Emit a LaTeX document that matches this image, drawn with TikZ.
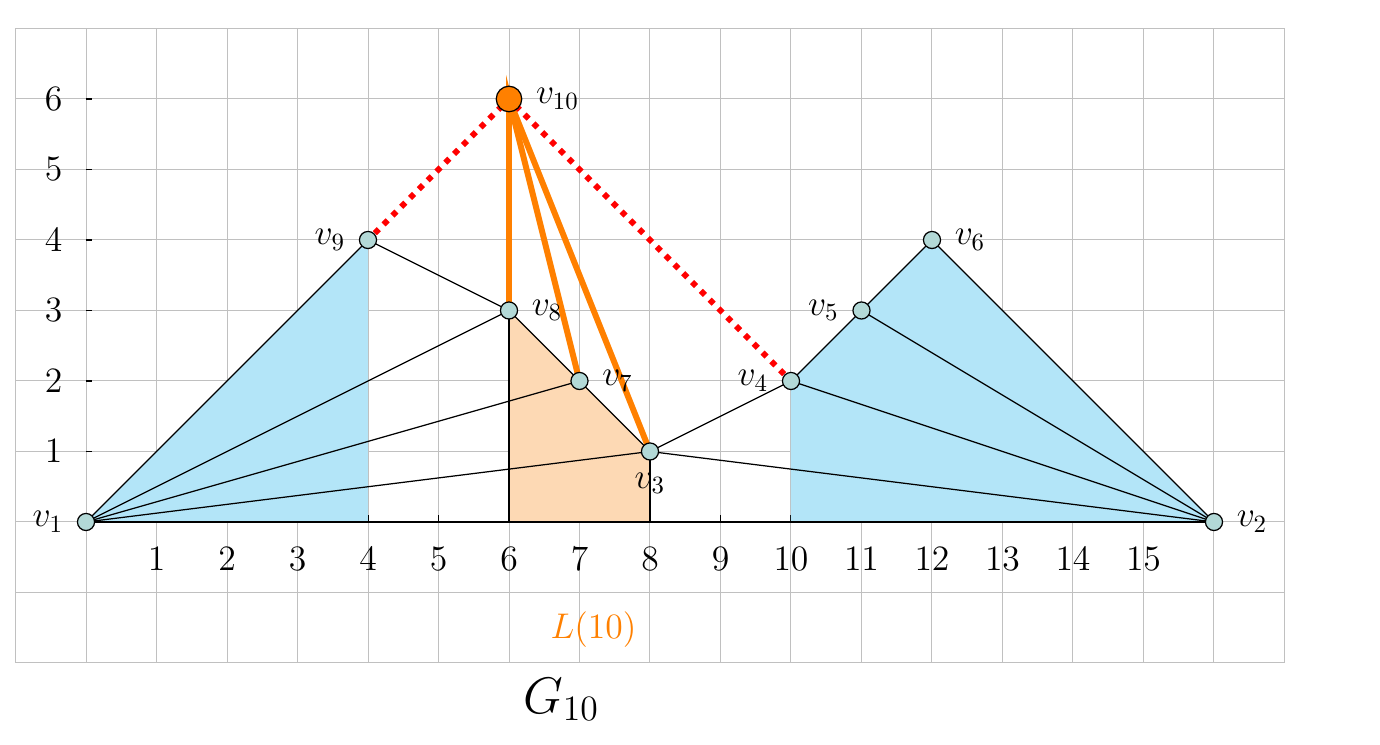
\documentclass[tikz,border=0pt]{standalone}
\usetikzlibrary{positioning}
\definecolor{fillblue}{RGB}{179,229,248}
\definecolor{fillorange}{RGB}{253,217,180}
\definecolor{vfill}{RGB}{179,217,215}
\definecolor{gridgray}{RGB}{192,192,192}
\definecolor{lorange}{RGB}{255,128,0}
\pgfdeclarelayer{bg}
\pgfsetlayers{bg,main}
\begin{document}
\begin{tikzpicture}[x=1cm,y=1cm,
  vtx/.style={circle, draw=black, line width=0.5pt, fill=vfill, inner sep=0pt, minimum size=6.9pt},
  topv/.style={circle, draw=black, line width=0.5pt, fill=lorange, inner sep=0pt, minimum size=10.3pt},
  vlab/.style={inner sep=0pt, font=\Large},
  ticklab/.style={inner sep=0pt, font=\Large},
  edge/.style={black, line width=0.5pt},
  hot/.style={lorange, line width=2.4pt, line join=miter},
  rdot/.style={red, line width=2.3pt, dash pattern=on 2.3pt off 2.73pt, dash phase=1.15pt},
  gridline/.style={gridgray, line width=0.4pt}
]
\useasboundingbox (-1.2199,-3.163) rectangle (18.355,7.404);

% vertices
\node[vtx] (v1) at (0,0) {};
\node[vtx] (v2) at (16,0) {};
\node[vtx] (v3) at (8,1) {};
\node[vtx] (v4) at (10,2) {};
\node[vtx] (v5) at (11,3) {};
\node[vtx] (v6) at (12,4) {};
\node[vtx] (v7) at (7,2) {};
\node[vtx] (v8) at (6,3) {};
\node[vtx] (v9) at (4,4) {};
\node[topv] (v10) at (6,6) {};
\coordinate (b4) at (4,0);
\coordinate (b6) at (6,0);
\coordinate (b8) at (8,0);
\coordinate (b10) at (10,0);

% vertex labels
\node[vlab, left=5.3pt of v1] (l1) {$v_1$};
\node[vlab, right=5.3pt of v2] (l2) {$v_2$};
\node[vlab, below=4.8pt of v3] (l3) {$v_3$};
\node[vlab, left=5.3pt of v4] (l4) {$v_4$};
\node[vlab, left=5.3pt of v5] (l5) {$v_5$};
\node[vlab, right=5.3pt of v6] (l6) {$v_6$};
\node[vlab, right=5.3pt of v7] (l7) {$v_7$};
\node[vlab, right=5.3pt of v8] (l8) {$v_8$};
\node[vlab, left=5.3pt of v9] (l9) {$v_9$};
\node[vlab, right=5.3pt of v10] (l10) {$v_{10}$};

% tick labels
\foreach \i in {1,...,15} \node[ticklab] (xl\i) at (\i,-0.52) {$\i$};
\foreach \j in {1,...,6} \node[ticklab] (yl\j) at (-0.46,\j) {$\j$};

\node[ticklab, text=lorange] (L10) at (7.2,-1.525) {$L(10)$};
\node[inner sep=0pt, font=\huge, anchor=base] (G10) at (6.74,-2.71) {$G_{10}$};

\begin{pgfonlayer}{bg}
  \draw[gridline] (-1,-2) grid (17,7);
  \foreach \i in {1,...,15} \draw[edge] (\i,0) -- (\i,0.1);
  \foreach \j in {1,...,6} \draw[edge] (0,\j) -- (0.09,\j);
  \fill[fillblue] (v1.center) -- (v9.center) -- (b4) -- cycle;
  \fill[fillblue] (b10) -- (v4.center) -- (v5.center) -- (v6.center) -- (v2.center) -- cycle;
  \fill[fillorange] (b6) -- (v8.center) -- (v7.center) -- (v3.center) -- (b8) -- cycle;
  \draw[edge] (v1.center) -- (v2.center);
  \draw[edge] (v1.center) -- (v9.center);
  \draw[edge] (v1.center) -- (v8.center);
  \draw[edge] (v1.center) -- (v7.center);
  \draw[edge] (v1.center) -- (v3.center);
  \draw[edge] (v9.center) -- (v8.center);
  \draw[edge] (v8.center) -- (v7.center);
  \draw[edge] (v7.center) -- (v3.center);
  \draw[edge] (v3.center) -- (v4.center);
  \draw[edge] (v3.center) -- (v2.center);
  \draw[edge] (v4.center) -- (v5.center);
  \draw[edge] (v5.center) -- (v6.center);
  \draw[edge] (v6.center) -- (v2.center);
  \draw[edge] (v5.center) -- (v2.center);
  \draw[edge] (v4.center) -- (v2.center);
  \draw[edge] (v8.center) -- (b6);
  \draw[edge] (v3.center) -- (b8);
  \draw[hot] (v8.center) -- (v10.center) -- (v7.center);
  \draw[hot] (v10.center) -- (v3.center);
  \draw[rdot] (v9.center) -- (v10.center);
  \draw[rdot] (v10.center) -- (v4.center);
\end{pgfonlayer}
\end{tikzpicture}
\end{document}
